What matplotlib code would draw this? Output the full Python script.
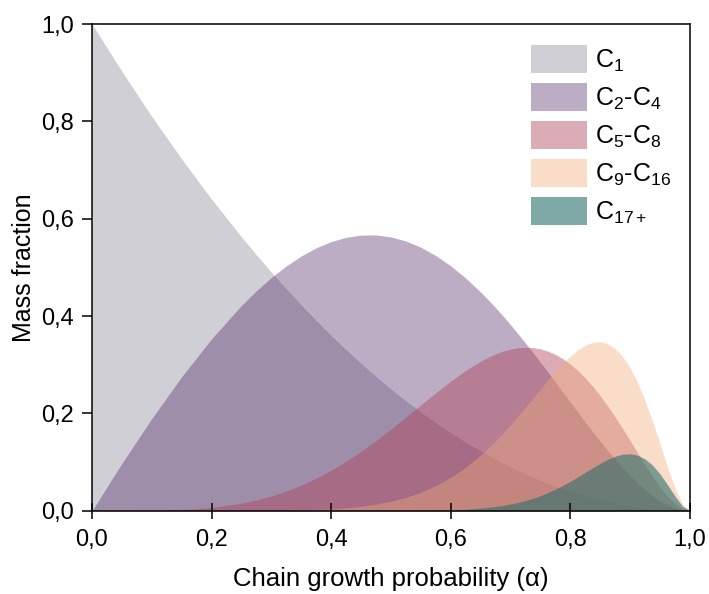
import matplotlib
matplotlib.use("Agg")
import matplotlib.pyplot as plt

plt.rcParams['font.family'] = ['Liberation Sans', 'DejaVu Sans']
plt.rcParams['mathtext.fontset'] = 'custom'
plt.rcParams['mathtext.rm'] = 'Liberation Sans'
plt.rcParams['mathtext.it'] = 'Liberation Sans'

# chain growth probability and mass fractions per product cut
alpha = [0.0, 0.05, 0.1, 0.15, 0.2, 0.25, 0.275, 0.3, 0.325, 0.35, 0.375, 0.4, 0.425,
         0.45, 0.475, 0.5, 0.525, 0.55, 0.575, 0.6, 0.625, 0.65, 0.6625, 0.675, 0.6875,
         0.7, 0.7125, 0.725, 0.7375, 0.75, 0.7625, 0.775, 0.7875, 0.8, 0.8125, 0.825,
         0.8375, 0.85, 0.8625, 0.875, 0.8875, 0.9, 0.9125, 0.925, 0.9375, 0.95, 0.9625,
         0.975, 0.9875, 1.0]
c1 = [1.0, 0.9025, 0.81, 0.7225, 0.64, 0.5625, 0.5256, 0.49, 0.4556, 0.4225, 0.3906,
      0.36, 0.3306, 0.3025, 0.2756, 0.25, 0.2256, 0.2025, 0.1806, 0.16, 0.1406, 0.1225,
      0.1139, 0.1056, 0.0977, 0.09, 0.0827, 0.0756, 0.0689, 0.0625, 0.0564, 0.0506,
      0.0452, 0.04, 0.0352, 0.0306, 0.0264, 0.0225, 0.0189, 0.0156, 0.0127, 0.01,
      0.0077, 0.0056, 0.0039, 0.0025, 0.0014, 0.0006, 0.0002, 0.0]
c2_c4 = [0.0, 0.0975, 0.1895, 0.2753, 0.3533, 0.4219, 0.4521, 0.4792, 0.5031, 0.5235,
         0.5402, 0.553, 0.5617, 0.5663, 0.5666, 0.5625, 0.5541, 0.5413, 0.5242, 0.503,
         0.4779, 0.4491, 0.4334, 0.4169, 0.3997, 0.3818, 0.3633, 0.3442, 0.3246, 0.3047,
         0.2844, 0.264, 0.2433, 0.2227, 0.2022, 0.1819, 0.1618, 0.1423, 0.1233, 0.1051,
         0.0878, 0.0715, 0.0564, 0.0427, 0.0305, 0.0201, 0.0116, 0.0053, 0.0014, 0.0]
c5_c8 = [0.0, 0.0, 0.0005, 0.0022, 0.0067, 0.0155, 0.0221, 0.0303, 0.0405, 0.0526,
         0.0669, 0.0832, 0.1017, 0.1221, 0.1443, 0.168, 0.1926, 0.2177, 0.2426, 0.2664,
         0.2883, 0.3073, 0.3154, 0.3223, 0.328, 0.3322, 0.3349, 0.3359, 0.3352, 0.3325,
         0.3278, 0.321, 0.3121, 0.3011, 0.2878, 0.2725, 0.2551, 0.2357, 0.2146, 0.1921,
         0.1683, 0.1437, 0.1188, 0.0942, 0.0705, 0.0486, 0.0294, 0.0141, 0.0038, 0.0]
c9_c16 = [0.0, 0.0, 0.0, 0.0, 0.0, 0.0001, 0.0002, 0.0004, 0.0008, 0.0014, 0.0023,
          0.0038, 0.0059, 0.0091, 0.0134, 0.0194, 0.0274, 0.0379, 0.0515, 0.0685, 0.0893,
          0.1144, 0.1285, 0.1436, 0.1597, 0.1767, 0.1945, 0.2128, 0.2315, 0.2502, 0.2687,
          0.2865, 0.3031, 0.318, 0.3305, 0.34, 0.3458, 0.347, 0.343, 0.333, 0.3165,
          0.2931, 0.2626, 0.2256, 0.1829, 0.1366, 0.0895, 0.0463, 0.0135, 0.0]
c17 = [0.0, 0.0, 0.0, 0.0, 0.0, 0.0, 0.0, 0.0, 0.0, 0.0, 0.0, 0.0, 0.0, 0.0, 0.0001,
       0.0001, 0.0003, 0.0005, 0.001, 0.0018, 0.0031, 0.0053, 0.0068, 0.0086, 0.0109,
       0.0137, 0.017, 0.021, 0.0257, 0.0311, 0.0373, 0.0443, 0.0521, 0.0606, 0.0696,
       0.079, 0.0884, 0.0974, 0.1055, 0.112, 0.1161, 0.1171, 0.114, 0.1062, 0.0933,
       0.0753, 0.0532, 0.0297, 0.0093, 0.0]

labels = ['C$_1$', 'C$_2$-C$_4$', 'C$_5$-C$_8$', 'C$_9$-C$_{16}$', 'C$_{17+}$']
ticks = [0.0, 0.2, 0.4, 0.6, 0.8, 1.0]
tick_labels = ['0,0', '0,2', '0,4', '0,6', '0,8', '1,0']

colors = ['#8a8799', '#481c5c', '#af4259', '#f2ac76', '#2a706b']
alphas = [0.4, 0.36, 0.44, 0.4, 0.6]

fig = plt.figure(figsize=(7.09, 5.94), dpi=100)
ax = fig.add_axes([92/709, 1 - 510.7/594, 598/709, 486.7/594])

for ys, lab, col, a in zip([c1, c2_c4, c5_c8, c9_c16, c17], labels, colors, alphas):
    ax.fill_between(alpha, 0, ys, color=col, alpha=a, linewidth=0, label=lab)

ax.set_xlim(0, 1)
ax.set_ylim(0, 1)
ax.set_xticks(ticks)
ax.set_xticklabels(tick_labels)
ax.set_yticks(ticks)
ax.set_yticklabels(tick_labels)
ax.tick_params(axis='x', direction='inout', length=12.2, width=1.1, pad=6.8, labelsize=17)
ax.tick_params(axis='y', direction='out', length=7.2, width=1.1, pad=5.8, labelsize=17)
for s in ax.spines.values():
    s.set_linewidth(1.1)

ax.set_xlabel('Chain growth probability (α)', fontsize=18.5, labelpad=12)
ax.set_ylabel('Mass fraction', fontsize=18, labelpad=3.5)

ax.legend(loc='upper left', bbox_to_anchor=(531/709, 1 - 45/594),
          bbox_transform=fig.transFigure, frameon=False,
          fontsize=18, handlelength=2.24, handleheight=1.346, handletextpad=0.32,
          labelspacing=0.38, borderpad=0, borderaxespad=0)

fig.savefig('out.png', dpi=100)
